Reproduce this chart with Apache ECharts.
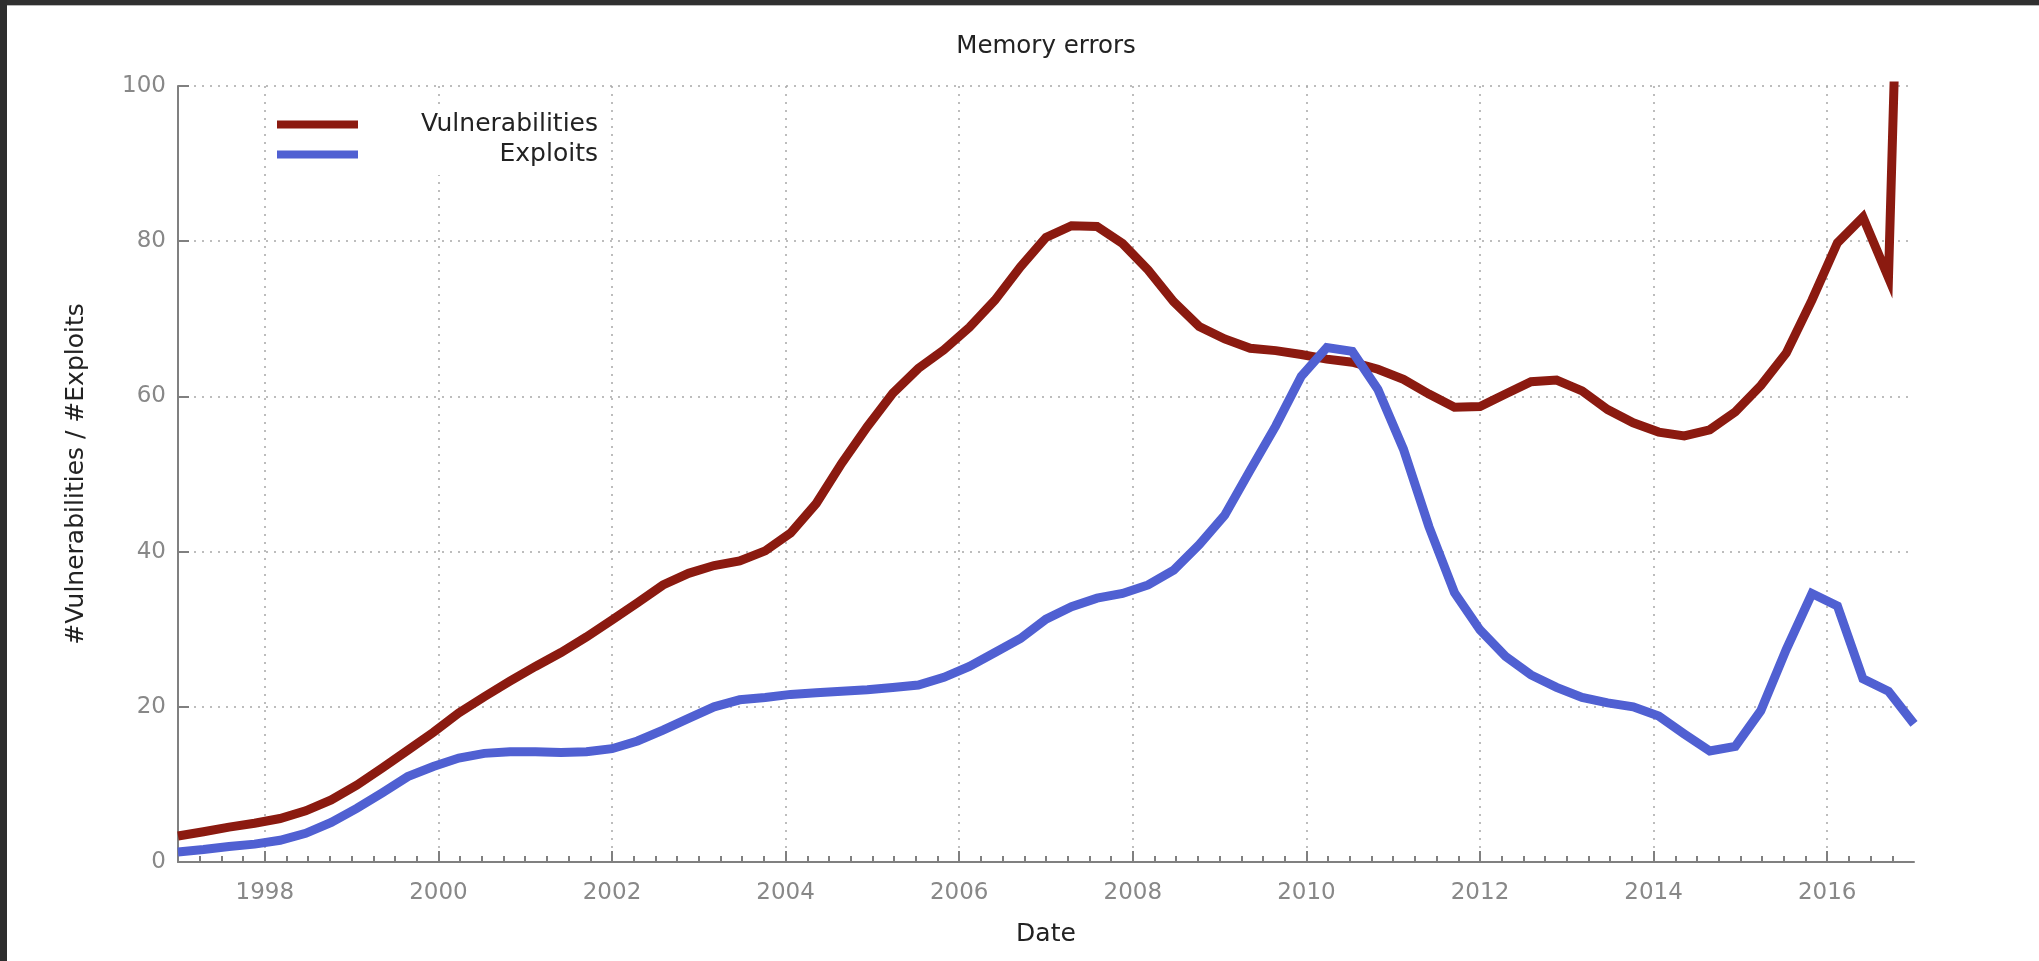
<!DOCTYPE html>
<html>
<head>
<meta charset="utf-8">
<title>Memory errors</title>
<script src="https://cdn.jsdelivr.net/npm/echarts@6/dist/echarts.min.js"></script>
<style>
  html, body { margin: 0; padding: 0; background: #fff; }
  #wrap { position: relative; width: 2039px; height: 961px; overflow: hidden; }
  #chart { position: absolute; left: 0; top: 0; width: 2039px; height: 961px; }
  #topbar { position: absolute; left: 0; top: 0; width: 2039px; height: 5px; background: #303030; border-bottom: 1px solid #b8b8b8; z-index: 5; }
  #leftbar { position: absolute; left: 0; top: 0; width: 7px; height: 961px; background: #2e2e2e; z-index: 6; }
</style>
</head>
<body>
<div id="wrap">
  <div id="chart"></div>
  <div id="topbar"></div>
  <div id="leftbar"></div>
</div>
<script>
// Sample dates (decimal years)
const dates = [
  1997.000, 1997.294, 1997.588, 1997.882, 1998.176, 1998.471, 1998.765, 1999.059,
  1999.353, 1999.647, 1999.941, 2000.235, 2000.529, 2000.824, 2001.118, 2001.412,
  2001.706, 2002.000, 2002.294, 2002.588, 2002.882, 2003.176, 2003.471, 2003.765,
  2004.059, 2004.353, 2004.647, 2004.941, 2005.235, 2005.529, 2005.824, 2006.118,
  2006.412, 2006.706, 2007.000, 2007.294, 2007.588, 2007.882, 2008.176, 2008.471,
  2008.765, 2009.059, 2009.353, 2009.647, 2009.941, 2010.235, 2010.529, 2010.824,
  2011.118, 2011.412, 2011.706, 2012.000, 2012.294, 2012.588, 2012.882, 2013.176,
  2013.471, 2013.765, 2014.059, 2014.353, 2014.647, 2014.941, 2015.235, 2015.529,
  2015.824, 2016.118, 2016.412, 2016.706, 2017.000
];

const vulnerabilities = [
  3.35, 3.9, 4.5, 5.0, 5.6, 6.6, 8.0, 9.9,
  12.1, 14.4, 16.7, 19.2, 21.3, 23.3, 25.2, 27.0,
  29.0, 31.2, 33.4, 35.7, 37.2, 38.2, 38.8, 40.1,
  42.4, 46.2, 51.4, 56.1, 60.4, 63.6, 66.0, 68.9,
  72.4, 76.7, 80.5, 82.0, 81.9, 79.7, 76.3, 72.2,
  69.0, 67.4, 66.2, 65.9, 65.4, 64.8, 64.4, 63.5,
  62.2, 60.3, 58.6, 58.7, 60.3, 61.9, 62.1, 60.7,
  58.3, 56.6, 55.4, 54.9, 55.7, 58.0, 61.4, 65.6,
  72.4, 79.8, 83.1, 75.3, 190
];

const exploits = [
  1.3, 1.6, 2.0, 2.3, 2.8, 3.7, 5.1, 6.9,
  8.9, 11.0, 12.3, 13.4, 14.0, 14.2, 14.2, 14.1,
  14.2, 14.6, 15.6, 17.0, 18.5, 20.0, 20.9, 21.2,
  21.6, 21.8, 22.0, 22.2, 22.5, 22.8, 23.8, 25.2,
  27.0, 28.8, 31.3, 32.9, 34.0, 34.6, 35.7, 37.6,
  40.9, 44.7, 50.5, 56.2, 62.6, 66.3, 65.8, 60.9,
  53.2, 43.2, 34.7, 29.9, 26.5, 24.1, 22.5, 21.2,
  20.5, 20.0, 18.8, 16.5, 14.3, 14.9, 19.5, 27.4,
  34.6, 33.0, 23.6, 22.0, 17.8
];

const yearTicks = [1998, 2000, 2002, 2004, 2006, 2008, 2010, 2012, 2014, 2016];

// Quarter-year minor ticks between the axis ends
const quarterTicks = [];
for (let q = 1997 * 4 + 1; q < 2017 * 4; q++) {
  if (q % 8 !== 0) quarterTicks.push(q / 4);
}

const FONT = 'DejaVu Sans';
const AXIS_GREY = '#808080';
const GRID_DOTS = { color: '#a8a8a8', width: 1.5, type: [2, 6] };

// Plot area box (pixels from the canvas edges)
const PLOT = { left: 178, right: 125, top: 86, bottom: 99 };
const plotCenterX = PLOT.left + (2039 - PLOT.left - PLOT.right) / 2;

const chart = echarts.init(document.getElementById('chart'), null, { renderer: 'canvas' });

chart.setOption({
  backgroundColor: '#ffffff',
  animation: false,
  textStyle: { fontFamily: FONT },
  title: {
    text: 'Memory errors',
    left: plotCenterX - 5,
    textAlign: 'center',
    top: 29,
    textStyle: { fontFamily: FONT, fontSize: 24.5, fontWeight: 'normal', color: '#222' }
  },
  legend: {
    left: 269,
    top: 104,
    orient: 'vertical',
    icon: 'rect',
    itemWidth: 81,
    itemHeight: 8,
    itemGap: 5,
    padding: [8, 8],
    backgroundColor: '#ffffff',
    formatter: '{r|{name}}',
    textStyle: {
      fontFamily: FONT,
      fontSize: 25,
      color: '#222',
      rich: { r: { width: 235, align: 'right', fontSize: 25, lineHeight: 23, fontFamily: FONT, color: '#222' } }
    },
    data: ['Vulnerabilities', 'Exploits']
  },
  grid: { left: PLOT.left, right: PLOT.right, top: PLOT.top, bottom: PLOT.bottom, containLabel: false, outerBoundsMode: 'none' },
  xAxis: [
    {
      type: 'value',
      min: 1997,
      max: 2017,
      name: 'Date',
      nameLocation: 'middle',
      nameGap: 60,
      nameTextStyle: { fontFamily: FONT, fontSize: 25, color: '#222' },
      axisLine: { show: true, lineStyle: { color: AXIS_GREY, width: 2 } },
      axisTick: { show: true, inside: true, length: 11, customValues: yearTicks, lineStyle: { color: AXIS_GREY, width: 2 } },
      axisLabel: {
        show: true, customValues: yearTicks, margin: 20,
        fontFamily: FONT, fontSize: 23, color: '#888',
        formatter: v => String(Math.round(v))
      },
      splitLine: { show: true, showMinLine: true, showMaxLine: true, lineStyle: GRID_DOTS }
    },
    {
      type: 'value',
      min: 1997,
      max: 2017,
      position: 'bottom',
      axisLine: { show: false },
      axisTick: { show: true, inside: true, length: 6, customValues: quarterTicks, lineStyle: { color: AXIS_GREY, width: 2 } },
      axisLabel: { show: false },
      splitLine: { show: false }
    }
  ],
  yAxis: {
    type: 'value',
    min: 0,
    max: 100,
    interval: 20,
    name: '#Vulnerabilities / #Exploits',
    nameLocation: 'middle',
    nameGap: 89,
    nameTextStyle: { fontFamily: FONT, fontSize: 25, color: '#222' },
    axisLine: { show: true, lineStyle: { color: AXIS_GREY, width: 2 } },
    axisTick: { show: true, inside: true, length: 11, lineStyle: { color: AXIS_GREY, width: 2 } },
    axisLabel: { fontFamily: FONT, fontSize: 23, color: '#888', margin: 12 },
    splitLine: { show: true, showMinLine: false, lineStyle: GRID_DOTS }
  },
  series: [
    {
      name: 'Vulnerabilities',
      type: 'line',
      xAxisIndex: 0,
      data: dates.map((d, i) => [d, vulnerabilities[i]]),
      showSymbol: false,
      clip: true,
      lineStyle: { color: '#8b1a10', width: 9, join: 'miter' },
      itemStyle: { color: '#8b1a10' },
      z: 3
    },
    {
      name: 'Exploits',
      type: 'line',
      xAxisIndex: 0,
      data: dates.map((d, i) => [d, exploits[i]]),
      showSymbol: false,
      clip: true,
      lineStyle: { color: '#5060d2', width: 9, join: 'miter' },
      itemStyle: { color: '#5060d2' },
      z: 3
    }
  ]
});
</script>
</body>
</html>
